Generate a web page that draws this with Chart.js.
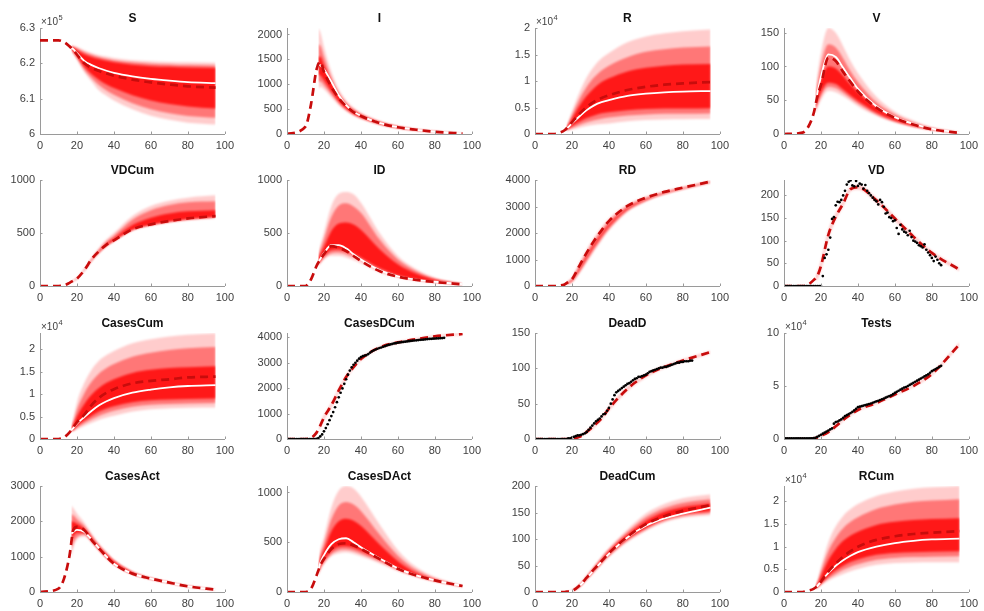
<!DOCTYPE html>
<html>
<head>
<meta charset="utf-8">
<script src="https://cdn.jsdelivr.net/npm/chart.js@4.4.1/dist/chart.umd.min.js"></script>
<style>
  html, body { margin: 0; padding: 0; background: #fff; }
  #wrap { position: relative; width: 984px; height: 611px; overflow: hidden; }
  #wrap canvas { position: absolute; }
</style>
</head>
<body>
<div id="wrap"></div>
<script>
// x grids: model curves start at day 0, simulation bands start at day 17
const X = [0, 10, 13, 16, 18, 20, 24, 28, 32, 36, 40, 50, 60, 70, 80, 95];
const XB = [17, 18, 20, 24, 28, 32, 36, 40, 50, 60, 70, 80, 95];
const DAYS = Array.from({ length: 86 }, (_, i) => i);
const X_TICKS = [0, 20, 40, 60, 80, 100];

// S
const S_fit = [626500, 626500, 626000, 624800, 623800, 622500, 620000, 618700, 617800, 617100, 616500, 615400, 614600, 614000, 613500, 613100];
const S_med = [624400, 624000, 622900, 620700, 619500, 618600, 617900, 617300, 616300, 615600, 615100, 614700, 614400];
const S_hi1 = [625200, 625000, 624700, 623700, 622900, 622300, 621900, 621500, 620900, 620600, 620400, 620300, 620200];
const S_hi2 = [624900, 624700, 624300, 623200, 622400, 621800, 621300, 620900, 620300, 619900, 619700, 619500, 619400];
const S_hi3 = [624600, 624400, 623800, 622600, 621800, 621200, 620700, 620300, 619600, 619200, 619000, 618800, 618700];
const S_lo3 = [624000, 623400, 622000, 619000, 616900, 615300, 614000, 613000, 611000, 609500, 608500, 607800, 607200];
const S_lo2 = [623800, 623100, 621500, 618200, 615800, 613800, 612300, 611100, 608700, 607000, 605900, 605100, 604600];
const S_lo1 = [623600, 622800, 621000, 617500, 614800, 612300, 610800, 609500, 607000, 605200, 604000, 603200, 602700];
const S_ticks = [600000, 610000, 620000, 630000];
const S_range = [600000, 630000];

// I
const I_fit = [0, 150, 600, 1300, 1450, 1250, 950, 720, 560, 440, 360, 220, 135, 85, 45, 8];
const I_med = [1400, 1380, 1300, 1050, 780, 580, 450, 365, 222, 136, 85, 45, 8];
const I_hi1 = [2130, 2050, 1750, 1250, 900, 680, 530, 430, 265, 165, 100, 58, 15];
const I_hi2 = [1800, 1780, 1550, 1130, 830, 630, 495, 400, 248, 153, 92, 52, 12];
const I_hi3 = [1550, 1550, 1380, 1040, 770, 590, 465, 378, 235, 145, 87, 48, 10];
const I_lo3 = [1200, 1180, 1080, 860, 660, 510, 405, 335, 208, 127, 77, 41, 7];
const I_lo2 = [1050, 1060, 980, 800, 620, 480, 385, 318, 197, 120, 72, 38, 6];
const I_lo1 = [900, 950, 900, 740, 580, 455, 365, 300, 186, 113, 68, 35, 5];
const I_ticks = [0, 500, 1000, 1500, 2000];
const I_range = [0, 2130];

// R
const R_fit = [0, 0, 200, 700, 1400, 2200, 3800, 5100, 6100, 6800, 7300, 8300, 8900, 9300, 9550, 9800];
const R_med = [1000, 1300, 2000, 3300, 4500, 5400, 6000, 6400, 7200, 7600, 7850, 8000, 8100];
const R_hi1 = [1500, 2300, 4300, 7800, 10700, 12800, 14300, 15300, 17300, 18400, 19000, 19400, 19700];
const R_hi2 = [1350, 2000, 3600, 6500, 8900, 10700, 12000, 12900, 14500, 15500, 16000, 16300, 16500];
const R_hi3 = [1200, 1700, 2900, 5300, 7200, 8700, 9800, 10500, 11800, 12500, 12900, 13100, 13200];
const R_lo3 = [800, 1050, 1500, 2300, 3000, 3500, 3900, 4100, 4500, 4700, 4800, 4800, 4850];
const R_lo2 = [700, 850, 1150, 1700, 2200, 2600, 2900, 3100, 3500, 3700, 3800, 3800, 3850];
const R_lo1 = [550, 650, 850, 1200, 1500, 1750, 1900, 2000, 2400, 2650, 2750, 2800, 2850];
const R_ticks = [0, 5000, 10000, 15000, 20000];
const R_range = [0, 20000];

// V
const V_fit = [0, 2, 10, 30, 55, 73, 113, 108, 92, 77, 63, 39, 24, 14, 7, 1.5];
const V_med = [45, 60, 85, 118, 114, 98, 82, 67, 41, 25, 15, 8, 2];
const V_hi1 = [65, 85, 120, 157, 150, 130, 108, 90, 55, 33, 20, 10, 2.5];
const V_hi2 = [55, 72, 102, 133, 128, 112, 93, 77, 47, 29, 17, 9, 2];
const V_hi3 = [47, 60, 80, 100, 97, 86, 73, 62, 39, 24, 14, 7.5, 1.8];
const V_lo3 = [38, 48, 62, 76, 74, 66, 57, 49, 32, 20, 12, 6.5, 1.4];
const V_lo2 = [34, 43, 56, 70, 68, 61, 53, 45, 29, 18, 11, 6, 1.2];
const V_lo1 = [30, 38, 50, 64, 62, 56, 49, 41, 27, 17, 10, 5.5, 1];
const V_ticks = [0, 50, 100, 150];
const V_range = [0, 157];

// VDCum
const VDC_fit = [0, 0, 5, 30, 50, 70, 150, 255, 330, 390, 430, 535, 582, 613, 638, 660];
const VDC_hi1 = [40, 52, 75, 160, 265, 360, 440, 500, 660, 755, 805, 833, 855];
const VDC_hi2 = [40, 51, 73, 155, 255, 345, 420, 475, 625, 715, 765, 790, 800];
const VDC_hi3 = [40, 50, 72, 152, 250, 330, 398, 448, 575, 645, 685, 705, 715];
const VDC_lo3 = [39, 49, 69, 148, 243, 320, 382, 428, 530, 578, 608, 632, 652];
const VDC_lo2 = [38, 48, 68, 146, 241, 316, 380, 425, 528, 575, 605, 628, 650];
const VDC_lo1 = [37, 47, 66, 143, 238, 312, 375, 420, 522, 568, 598, 620, 640];
const VDC_ticks = [0, 500, 1000];
const VDC_range = [0, 1000];

// ID
const ID_fit = [0, 0, 63, 190, 250, 300, 377, 360, 330, 283, 236, 141, 88, 57, 38, 16];
const ID_med = [225, 255, 310, 385, 385, 355, 300, 250, 150, 92, 60, 40, 17];
const ID_hi1 = [320, 380, 503, 755, 870, 887, 865, 786, 503, 283, 157, 79, 22];
const ID_hi2 = [290, 340, 440, 650, 760, 780, 750, 690, 440, 250, 140, 70, 20];
const ID_hi3 = [260, 300, 370, 520, 590, 600, 580, 530, 350, 205, 115, 60, 18];
const ID_lo3 = [215, 240, 285, 340, 345, 330, 305, 270, 170, 102, 63, 40, 14];
const ID_lo2 = [200, 225, 265, 310, 315, 300, 275, 245, 150, 90, 56, 36, 13];
const ID_lo1 = [185, 210, 250, 285, 285, 270, 245, 215, 130, 80, 50, 32, 12];
const ID_ticks = [0, 500, 1000];
const ID_range = [0, 1000];

// RD
const RD_fit = [0, 0, 10, 60, 150, 250, 760, 1260, 1710, 2100, 2450, 3020, 3330, 3550, 3710, 3940];
const RD_hi1 = [110, 190, 310, 850, 1360, 1810, 2200, 2530, 3070, 3370, 3580, 3740, 3975];
const RD_hi3 = [90, 150, 250, 740, 1220, 1660, 2050, 2390, 2980, 3300, 3530, 3695, 3930];
const RD_lo3 = [60, 100, 170, 560, 1000, 1430, 1830, 2190, 2860, 3230, 3480, 3660, 3905];
const RD_lo1 = [40, 80, 140, 480, 900, 1330, 1730, 2100, 2800, 3190, 3450, 3640, 3890];
const RD_ticks = [0, 1000, 2000, 3000, 4000];
const RD_range = [0, 4000];

// VD
const VD_fit = [0, 0, 3, 13, 22, 44, 113, 153, 182, 214, 218, 189, 149, 109, 73, 36];
const VD_hi1 = [24, 30, 55, 122, 160, 188, 219, 223, 194, 154, 113, 77, 39];
const VD_lo1 = [12, 15, 35, 104, 146, 176, 209, 213, 184, 144, 105, 69, 33];
const VD_obs = [0, 0, 0, 0, 0, 0, 0, 0, 0, 0, 0, 0, 0, 0, 0, 0, 0, 0, 0, 0, 0,
  22, 62, 70, 80, 107, 148, 152, 178, 186, 185, 190, 200, 210, 224, 230,
  233, 222, 220, 232, 221, 226, 224, 215, 223, 210, 205, 200, 195, 190, 187,
  180, 190, 185, 175, 160, 162, 152, 150, 143, 145, 128, 115, 135, 125, 120,
  118, 112, 122, 108, 100, 98, 95, 90, 88, 85, 92, 80, 74, 68, 62, 55, 65, 58, 50, 46];
const VD_ticks = [0, 50, 100, 150, 200];
const VD_range = [0, 234];

// CasesCum
const CC_fit = [0, 0, 370, 1480, 2600, 3700, 5400, 7600, 9200, 10300, 11100, 12400, 12960, 13300, 13700, 13900];
const CC_med = [2000, 2400, 3400, 4900, 6300, 7500, 8400, 9100, 10300, 11000, 11500, 11800, 12000];
const CC_hi1 = [3000, 4500, 8150, 12500, 15500, 17500, 18700, 19600, 21300, 22200, 22800, 23200, 23550];
const CC_hi2 = [2700, 3800, 6500, 10200, 12800, 14600, 15800, 16700, 18300, 19200, 19800, 20200, 20500];
const CC_hi3 = [2400, 3200, 5000, 7800, 9900, 11400, 12500, 13300, 14700, 15400, 15800, 16000, 16200];
const CC_lo3 = [1800, 2100, 2900, 4100, 5200, 6100, 6800, 7300, 8200, 8600, 8800, 8900, 9000];
const CC_lo2 = [1700, 1900, 2500, 3500, 4400, 5200, 5800, 6300, 7200, 7600, 7800, 7900, 8000];
const CC_lo1 = [1500, 1700, 2100, 2900, 3600, 4300, 4800, 5200, 6100, 6600, 6850, 6950, 7000];
const CC_ticks = [0, 5000, 10000, 15000, 20000];
const CC_range = [0, 23600];

// CasesDCum
const CDC_fit = [0, 0, 40, 250, 525, 850, 1330, 1910, 2440, 2830, 3150, 3600, 3800, 3930, 4040, 4130];
const CDC_hi1 = [460, 600, 930, 1410, 1990, 2510, 2890, 3200, 3640, 3835, 3960, 4070, 4170];
const CDC_lo1 = [320, 440, 760, 1240, 1820, 2360, 2760, 3090, 3550, 3760, 3895, 4005, 4090];
const CDC_obs = [0, 0, 0, 0, 0, 0, 0, 0, 0, 0, 0, 0, 0, 0, 0, 0,
  10, 40, 100, 180, 300, 430, 580, 740, 900, 1060, 1250, 1450, 1640, 1820, 1990,
  2170, 2350, 2530, 2690, 2820, 2920, 3000, 3080, 3160, 3220, 3260, 3280, 3300, 3340, 3400,
  3450, 3490, 3520, 3550, 3580, 3600, 3630, 3650, 3680, 3700, 3720, 3740, 3760, 3770, 3790,
  3800, 3810, 3820, 3830, 3840, 3850, 3860, 3870, 3875, 3880, 3890, 3900, 3905, 3910, 3920,
  3930, 3935, 3940, 3945, 3950, 3955, 3960, 3965, 3970, 3980];
const CDC_ticks = [0, 1000, 2000, 3000, 4000];
const CDC_range = [0, 4170];

// DeadD
const DD_fit = [0, 0, 0, 0, 0, 0.5, 3, 10, 19, 29, 43, 71, 90, 102, 111, 123];
const DD_hi1 = [0.3, 0.5, 1, 4, 12, 21, 32, 46, 74, 92, 104, 113, 125];
const DD_lo1 = [0, 0, 0, 2, 8, 16, 27, 40, 68, 87, 100, 109, 121];
const DD_obs = [0, 0, 0, 0, 0, 0, 0, 0, 0, 0, 0, 0, 0, 0, 0, 0, 0, 0,
  1, 1, 2, 3, 4, 5, 5, 6, 7, 8, 10, 13, 16, 19, 22, 25, 27, 29, 32, 35,
  36, 40, 44, 50, 56, 62, 66, 68, 70, 72, 74, 76, 78, 79, 81, 83, 85, 86, 88, 88,
  89, 90, 91, 93, 95, 96, 97, 98, 99, 100, 101, 101, 102, 102, 103, 104, 105, 106, 107, 108,
  108, 109, 109, 110, 110, 110, 111, 111];
const DD_ticks = [0, 50, 100, 150];
const DD_range = [0, 150];

// Tests
const T_fit = [0, 0, 0, 500, 1500, 3000, 6500, 12000, 18000, 23000, 27400, 34000, 42000, 50000, 61300, 89400];
const T_hi1 = [1200, 2200, 3800, 7500, 13000, 19000, 24000, 28500, 35000, 43000, 51000, 62500, 91000];
const T_lo1 = [300, 900, 2300, 5600, 11000, 17000, 22000, 26400, 33000, 41000, 49000, 60200, 88000];
const T_obs = [500, 500, 500, 500, 500, 500, 500, 500, 500, 500, 500, 500, 500, 500, 500, 500,
  800, 1200, 2000, 3000, 4000, 5000, 6000, 7000, 8000, 9000,
  10000, 14500, 16000, 16500, 17500, 18500, 20000, 21500, 22500, 23500,
  24500, 25500, 27000, 28500, 30000, 30500, 31000, 31500, 32000, 32500,
  33000, 33500, 34200, 34800, 35500, 36000, 36800, 37500, 38200, 39000,
  39800, 40500, 41200, 42300, 43500, 44500, 45500, 46500, 47500, 48500,
  49000, 50000, 51000, 52000, 53000, 54000, 55000, 56000, 57000, 58000,
  59000, 60000, 61000, 62500, 64000, 65000, 66000, 67000, 68000, 69000];
const T_ticks = [0, 50000, 100000];
const T_range = [0, 100000];

// CasesAct
const CA_fit = [0, 95, 380, 1040, 1750, 1845, 1750, 1470, 1230, 1000, 800, 520, 380, 265, 160, 66];
const CA_med = [1650, 1700, 1760, 1700, 1480, 1235, 1000, 800, 520, 380, 265, 160, 66];
const CA_hi1 = [2450, 2380, 2220, 1960, 1650, 1360, 1130, 920, 590, 405, 283, 177, 76];
const CA_hi2 = [2200, 2170, 2060, 1870, 1590, 1320, 1100, 900, 575, 396, 277, 172, 73];
const CA_hi3 = [2000, 1990, 1930, 1790, 1530, 1275, 1060, 868, 555, 387, 270, 167, 70];
const CA_lo3 = [1450, 1580, 1680, 1680, 1450, 1200, 980, 795, 515, 368, 257, 156, 64];
const CA_lo2 = [1150, 1380, 1560, 1620, 1420, 1180, 962, 782, 506, 362, 252, 152, 62];
const CA_lo1 = [950, 1250, 1480, 1570, 1390, 1160, 945, 768, 496, 355, 248, 149, 60];
const CA_ticks = [0, 1000, 2000, 3000];
const CA_range = [0, 3000];

// CasesDAct
const CDA_fit = [0, 0, 33, 167, 267, 333, 433, 483, 490, 467, 433, 333, 233, 167, 117, 60];
const CDA_med = [220, 290, 370, 480, 530, 540, 500, 450, 340, 238, 168, 118, 60];
const CDA_hi1 = [300, 420, 550, 850, 1020, 1065, 1040, 960, 680, 420, 250, 150, 65];
const CDA_hi2 = [270, 370, 480, 730, 870, 905, 880, 815, 580, 365, 220, 135, 60];
const CDA_hi3 = [250, 330, 420, 610, 710, 735, 715, 665, 480, 310, 190, 120, 55];
const CDA_lo3 = [200, 260, 320, 410, 455, 460, 445, 415, 330, 240, 165, 112, 53];
const CDA_lo2 = [180, 235, 295, 380, 420, 428, 412, 385, 308, 222, 156, 108, 51];
const CDA_lo1 = [160, 210, 280, 360, 390, 400, 385, 360, 290, 210, 150, 105, 50];
const CDA_ticks = [0, 500, 1000];
const CDA_range = [0, 1065];

// DeadCum
const DC_fit = [0, 0, 0, 0, 1, 2, 12, 27, 43, 58, 73, 104, 128, 143, 153, 164];
const DC_med = [0, 0.5, 2, 11, 26, 42, 57, 72, 103, 125, 139, 148, 159];
const DC_hi1 = [0, 1, 3, 14, 31, 49, 67, 83, 118, 148, 166, 177, 184];
const DC_hi2 = [0, 1, 3, 13, 29, 47, 64, 80, 113, 141, 158, 168, 175];
const DC_hi3 = [0, 0.5, 2, 12, 28, 45, 61, 77, 108, 134, 151, 160, 167];
const DC_lo3 = [0, 0.5, 2, 10, 25, 41, 56, 71, 100, 121, 138, 147, 153];
const DC_lo2 = [0, 0, 1.5, 9.5, 24, 39, 54, 68, 97, 118, 134, 143, 149];
const DC_lo1 = [0, 0, 1, 9, 23, 37, 52, 66, 94, 115, 131, 140, 145];
const DC_ticks = [0, 50, 100, 150, 200];
const DC_range = [0, 200];

// RCum
const RC_fit = [0, 0, 300, 700, 1300, 2300, 4500, 6300, 7800, 9000, 10000, 11500, 12300, 12800, 13100, 13450];
const RC_med = [900, 1300, 2300, 4200, 5800, 7000, 8000, 8800, 10000, 10800, 11300, 11600, 11800];
const RC_hi1 = [1500, 2400, 5500, 11000, 14500, 16800, 18300, 19400, 21200, 22200, 22800, 23100, 23400];
const RC_hi2 = [1300, 2000, 4500, 9000, 12000, 14100, 15500, 16500, 18300, 19300, 19900, 20200, 20500];
const RC_hi3 = [1150, 1700, 3500, 7000, 9500, 11300, 12500, 13300, 14800, 15500, 15900, 16100, 16300];
const RC_lo3 = [800, 1100, 1900, 3500, 4800, 5800, 6600, 7200, 8200, 8600, 8800, 8900, 9000];
const RC_lo2 = [750, 1000, 1700, 3000, 4000, 4900, 5600, 6100, 7100, 7500, 7700, 7800, 7900];
const RC_lo1 = [700, 900, 1500, 2500, 3300, 4000, 4600, 5100, 6000, 6400, 6500, 6550, 6550];
const RC_ticks = [0, 5000, 10000, 15000, 20000];
const RC_range = [0, 23400];

// panel table, row by row
const PANELS = [
  { title: 'S', fit: S_fit, med: S_med, bands: [[S_lo1, S_hi1], [S_lo2, S_hi2], [S_lo3, S_hi3]], ticks: S_ticks, range: S_range, exp: 5 },
  { title: 'I', fit: I_fit, med: I_med, bands: [[I_lo1, I_hi1], [I_lo2, I_hi2], [I_lo3, I_hi3]], ticks: I_ticks, range: I_range },
  { title: 'R', fit: R_fit, med: R_med, bands: [[R_lo1, R_hi1], [R_lo2, R_hi2], [R_lo3, R_hi3]], ticks: R_ticks, range: R_range, exp: 4 },
  { title: 'V', fit: V_fit, med: V_med, bands: [[V_lo1, V_hi1], [V_lo2, V_hi2], [V_lo3, V_hi3]], ticks: V_ticks, range: V_range },
  { title: 'VDCum', fit: VDC_fit, bands: [[VDC_lo1, VDC_hi1], [VDC_lo2, VDC_hi2], [VDC_lo3, VDC_hi3]], ticks: VDC_ticks, range: VDC_range },
  { title: 'ID', fit: ID_fit, med: ID_med, bands: [[ID_lo1, ID_hi1], [ID_lo2, ID_hi2], [ID_lo3, ID_hi3]], ticks: ID_ticks, range: ID_range },
  { title: 'RD', fit: RD_fit, bands: [[RD_lo1, RD_hi1], [RD_lo3, RD_hi3]], ticks: RD_ticks, range: RD_range },
  { title: 'VD', fit: VD_fit, bands: [[VD_lo1, VD_hi1]], obs: VD_obs, ticks: VD_ticks, range: VD_range },
  { title: 'CasesCum', fit: CC_fit, med: CC_med, bands: [[CC_lo1, CC_hi1], [CC_lo2, CC_hi2], [CC_lo3, CC_hi3]], ticks: CC_ticks, range: CC_range, exp: 4 },
  { title: 'CasesDCum', fit: CDC_fit, bands: [[CDC_lo1, CDC_hi1]], obs: CDC_obs, ticks: CDC_ticks, range: CDC_range },
  { title: 'DeadD', fit: DD_fit, bands: [[DD_lo1, DD_hi1]], obs: DD_obs, ticks: DD_ticks, range: DD_range },
  { title: 'Tests', fit: T_fit, bands: [[T_lo1, T_hi1]], obs: T_obs, ticks: T_ticks, range: T_range, exp: 4 },
  { title: 'CasesAct', fit: CA_fit, med: CA_med, bands: [[CA_lo1, CA_hi1], [CA_lo2, CA_hi2], [CA_lo3, CA_hi3]], ticks: CA_ticks, range: CA_range },
  { title: 'CasesDAct', fit: CDA_fit, med: CDA_med, bands: [[CDA_lo1, CDA_hi1], [CDA_lo2, CDA_hi2], [CDA_lo3, CDA_hi3]], ticks: CDA_ticks, range: CDA_range },
  { title: 'DeadCum', fit: DC_fit, med: DC_med, bands: [[DC_lo1, DC_hi1], [DC_lo2, DC_hi2], [DC_lo3, DC_hi3]], ticks: DC_ticks, range: DC_range },
  { title: 'RCum', fit: RC_fit, med: RC_med, bands: [[RC_lo1, RC_hi1], [RC_lo2, RC_hi2], [RC_lo3, RC_hi3]], ticks: RC_ticks, range: RC_range, exp: 4 }
];

// layout of the 4x4 grid (plot area corners in page pixels)
const COL_LEFT = [40, 287.3, 535.3, 784.3];
const ROW_TOP = [27.5, 179.5, 332.5, 485.5];
const PLOT_W = 188, PLOT_H = 106;
const PAD_L = 40, PAD_T = 27, PAD_R = 11, PAD_B = 18;

const FONT = '"Liberation Sans", Arial, Helvetica, sans-serif';
const AXIS_COLOR = '#9a9a9a';
const TICK_COLOR = '#404040';
const FIT_COLOR = 'rgb(200, 12, 12)';
const BAND_ORDER_MIN = 20;
const BAND_ALPHAS = {
  1: [0.24],
  2: [0.3, 0.62],
  3: [0.2, 0.42, 0.8]
};

function pts(xs, ys) {
  return xs.map((x, i) => ({ x: x, y: ys[i] }));
}

function fmtTick(v, exp) {
  if (!exp) return String(v);
  return String(Math.round(v / Math.pow(10, exp) * 100) / 100);
}

// soften the band fills a little so the nested levels read as a fan
const softBandsPlugin = {
  id: 'softBands',
  beforeDatasetsDraw(chart) {
    chart.ctx.save();
    chart.ctx.filter = 'blur(1.3px)';
  },
  beforeDatasetDraw(chart, args) {
    if (args.meta.order < BAND_ORDER_MIN) chart.ctx.filter = 'none';
  },
  afterDatasetsDraw(chart) {
    chart.ctx.filter = 'none';
    chart.ctx.restore();
  }
};

// title, x10^n label and inward tick marks, MATLAB style
const decorPlugin = {
  id: 'decor',
  afterDraw(chart, args, opts) {
    const { ctx, chartArea: a, scales } = chart;
    ctx.save();
    ctx.strokeStyle = AXIS_COLOR;
    ctx.lineWidth = 1;
    ctx.beginPath();
    scales.x.ticks.forEach(t => {
      const px = Math.round(scales.x.getPixelForValue(t.value)) + 0.5;
      ctx.moveTo(px, a.bottom);
      ctx.lineTo(px, a.bottom - 2.5);
    });
    scales.y.ticks.forEach(t => {
      const py = Math.round(scales.y.getPixelForValue(t.value)) + 0.5;
      ctx.moveTo(a.left, py);
      ctx.lineTo(a.left + 2.5, py);
    });
    ctx.stroke();

    ctx.fillStyle = '#111';
    ctx.font = 'bold 12px ' + FONT;
    ctx.textAlign = 'center';
    ctx.textBaseline = 'alphabetic';
    ctx.fillText(opts.title, (a.left + a.right) / 2, a.top - 6);

    if (opts.exp) {
      ctx.fillStyle = TICK_COLOR;
      ctx.textAlign = 'left';
      ctx.font = '10px ' + FONT;
      const base = '\u00d710';
      ctx.fillText(base, a.left + 1, a.top - 3);
      const w = ctx.measureText(base).width;
      ctx.font = '7.5px ' + FONT;
      ctx.fillText(String(opts.exp), a.left + 1 + w + 0.5, a.top - 8);
    }
    ctx.restore();
  }
};

function buildDatasets(p) {
  const ds = [];
  const alphas = BAND_ALPHAS[p.bands.length];
  p.bands.forEach((b, k) => {
    const order = BAND_ORDER_MIN + 10 - k;
    ds.push({ data: pts(XB, b[1]), borderWidth: 0, pointRadius: 0, fill: false, order: order,
      cubicInterpolationMode: 'monotone' });
    ds.push({ data: pts(XB, b[0]), borderWidth: 0, pointRadius: 0, fill: '-1', order: order,
      backgroundColor: 'rgba(255, 0, 0, ' + alphas[k] + ')', cubicInterpolationMode: 'monotone' });
  });
  if (p.med) {
    ds.push({ data: pts(XB, p.med), borderColor: '#fff', borderWidth: 1.8, pointRadius: 0,
      fill: false, order: 3, cubicInterpolationMode: 'monotone' });
  }
  ds.push({ data: pts(X, p.fit), borderColor: FIT_COLOR, borderWidth: 2.7, borderDash: [8, 5],
    pointRadius: 0, fill: false, order: 2, cubicInterpolationMode: 'monotone' });
  if (p.obs) {
    ds.push({ data: pts(DAYS, p.obs), showLine: false, pointRadius: 1.35, pointBorderWidth: 0,
      pointBackgroundColor: '#000', order: 1 });
  }
  return ds;
}

function makeChart(p, idx) {
  const col = idx % 4, row = Math.floor(idx / 4);
  const w = PAD_L + PLOT_W + PAD_R, h = PAD_T + PLOT_H + PAD_B;
  const canvas = document.createElement('canvas');
  canvas.width = w;
  canvas.height = h;
  canvas.style.left = (COL_LEFT[col] - PAD_L) + 'px';
  canvas.style.top = (ROW_TOP[row] - PAD_T) + 'px';
  document.getElementById('wrap').appendChild(canvas);

  new Chart(canvas, {
    type: 'line',
    data: { datasets: buildDatasets(p) },
    options: {
      responsive: false,
      animation: false,
      events: [],
      layout: { padding: { left: 0, top: PAD_T, right: PAD_R, bottom: 0 } },
      plugins: {
        legend: { display: false },
        tooltip: { enabled: false },
        decor: { title: p.title, exp: p.exp }
      },
      scales: {
        x: {
          type: 'linear',
          min: 0,
          max: 100,
          afterBuildTicks: s => { s.ticks = X_TICKS.map(v => ({ value: v })); },
          afterFit: s => { s.height = PAD_B; },
          grid: { display: true, drawOnChartArea: false, drawTicks: false },
          border: { display: true, color: AXIS_COLOR, width: 1 },
          ticks: { color: TICK_COLOR, font: { family: FONT, size: 11 }, padding: 5,
            maxRotation: 0, autoSkip: false }
        },
        y: {
          type: 'linear',
          min: p.range[0],
          max: p.range[1],
          afterBuildTicks: s => { s.ticks = p.ticks.map(v => ({ value: v })); },
          afterFit: s => { s.width = PAD_L; },
          grid: { display: true, drawOnChartArea: false, drawTicks: false },
          border: { display: true, color: AXIS_COLOR, width: 1 },
          ticks: { color: TICK_COLOR, font: { family: FONT, size: 11 }, padding: 5,
            autoSkip: false, callback: v => fmtTick(v, p.exp) }
        }
      }
    },
    plugins: [softBandsPlugin, decorPlugin]
  });
}

document.addEventListener('DOMContentLoaded', function() {
  PANELS.forEach(makeChart);
});
</script>
</body>
</html>
